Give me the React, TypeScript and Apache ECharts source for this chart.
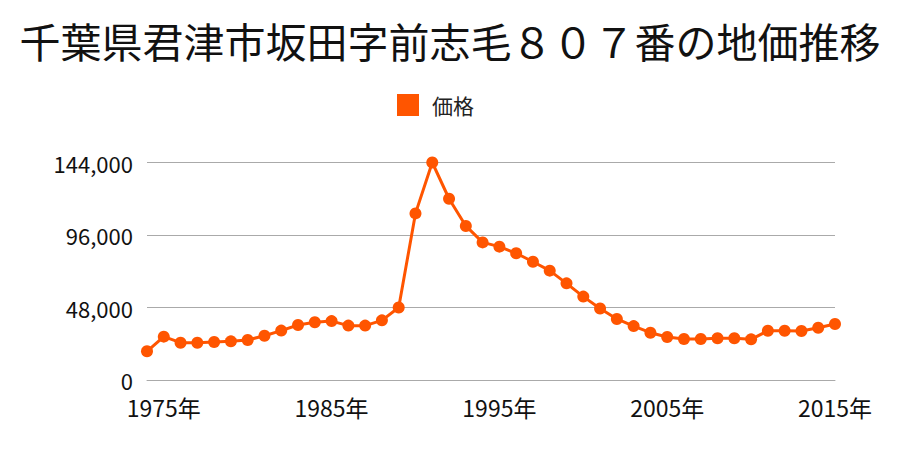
import React, { useEffect, useRef } from "react";
import * as echarts from "echarts";

const title = "千葉県君津市坂田字前志毛８０７番の地価推移";
const seriesName = "価格";
const years = [
  1974, 1975, 1976, 1977, 1978, 1979, 1980, 1981, 1982, 1983, 1984, 1985, 1986, 1987,
  1988, 1989, 1990, 1991, 1992, 1993, 1994, 1995, 1996, 1997, 1998, 1999, 2000, 2001,
  2002, 2003, 2004, 2005, 2006, 2007, 2008, 2009, 2010, 2011, 2012, 2013, 2014, 2015,
];
const prices = [
  19000, 28700, 24700, 24700, 25200, 25600, 26500, 29300, 32700, 36400, 38200, 39000, 36000, 36000,
  39500, 48000, 110300, 144000, 120000, 102000, 91100, 88300, 83900, 78300, 72400, 64000, 55200, 47300,
  40400, 35700, 31300, 28500, 27100, 27100, 27600, 27600, 26900, 32600, 32600, 32400, 34600, 37100,
];
const yTicks = [0, 48000, 96000, 144000];

const FONT = "'Noto Sans CJK JP', 'Noto Sans', sans-serif";
const COLOR = "#ff5500";

export default function App() {
  const ref = useRef<HTMLDivElement>(null);
  useEffect(() => {
    if (!ref.current) return;
    const chart = echarts.init(ref.current, undefined, { renderer: "svg" });
    chart.setOption({
      animation: false,
      textStyle: { fontFamily: FONT },
      title: {
        text: title,
        left: "center",
        top: 14,
        textStyle: { fontSize: 41, fontWeight: "normal", color: "#111", fontFamily: FONT },
      },
      legend: {
        data: [{ name: seriesName, icon: "rect" }],
        top: 89,
        left: 392,
        itemWidth: 22,
        itemHeight: 22,
        itemGap: 10,
        textStyle: { fontSize: 21, color: "#222", fontFamily: FONT, padding: [0, 0, 0, 8] },
      },
      grid: { left: 147, right: 65, top: 162.5, bottom: 70, containLabel: false },
      xAxis: {
        type: "category",
        data: years.map(String),
        boundaryGap: false,
        axisLine: { show: true, lineStyle: { color: "#aaa", width: 1 } },
        axisTick: { show: false },
        axisLabel: {
          interval: (_i: number, v: string) => Number(v) % 10 === 5,
          formatter: (v: string) => `${v}年`,
          fontSize: 23,
          lineHeight: 24,
          color: "#111",
          margin: 15,
          fontFamily: FONT,
        },
        splitLine: { show: false },
      },
      yAxis: {
        type: "value",
        min: yTicks[0],
        max: yTicks[yTicks.length - 1],
        interval: yTicks[1] - yTicks[0],
        axisLine: { show: false },
        axisTick: { show: false },
        axisLabel: {
          fontSize: 22,
          lineHeight: 18,
          color: "#111",
          margin: 14,
          padding: [0, 0, 4, 0],
          fontFamily: FONT,
          formatter: (v: number) => v.toLocaleString("en-US"),
        },
        splitLine: { show: true, lineStyle: { color: "#aaa", width: 1 } },
      },
      series: [
        {
          name: seriesName,
          type: "line",
          data: prices,
          color: COLOR,
          symbol: "circle",
          symbolSize: 12,
          showSymbol: true,
          showAllSymbol: true,
          lineStyle: { width: 3, color: COLOR },
          itemStyle: { color: COLOR },
        },
      ],
    });
    return () => chart.dispose();
  }, []);
  return <div ref={ref} style={{ width: 900, height: 450, position: "absolute", left: 0, top: 0 }} />;
}
